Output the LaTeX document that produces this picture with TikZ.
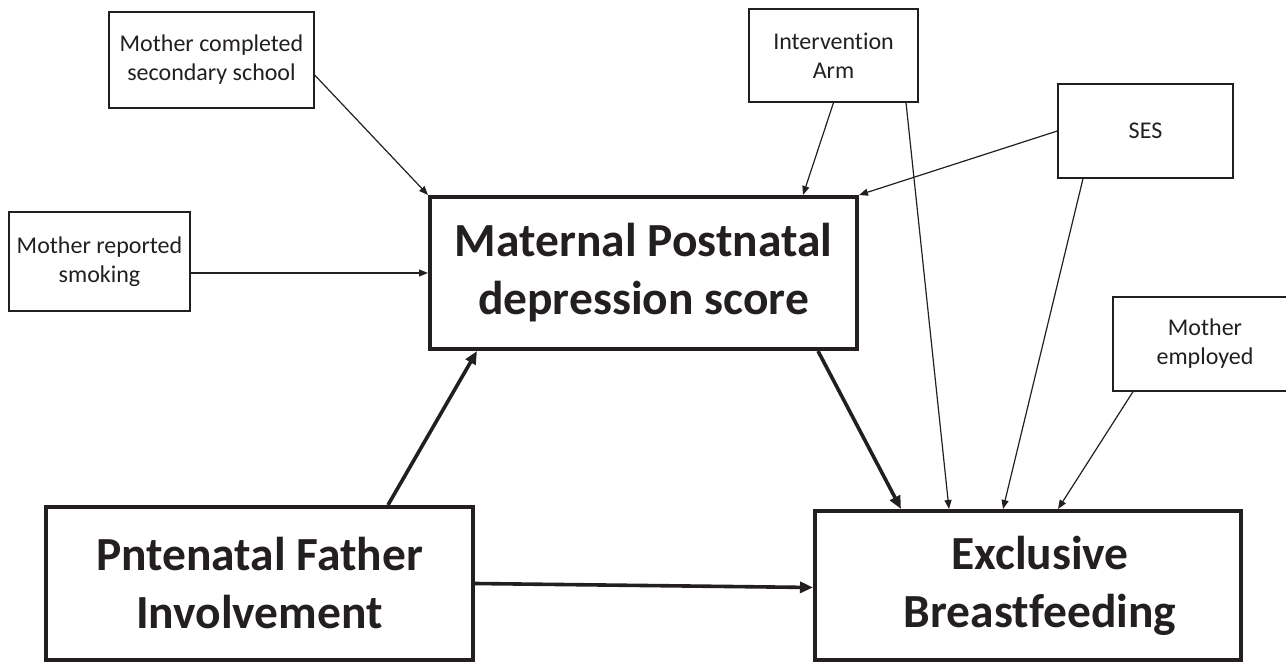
\documentclass[tikz,border=0pt]{standalone}
\usepackage{fontspec}
\setmainfont[Ligatures=NoCommon]{Carlito}
\usetikzlibrary{arrows.meta}
\definecolor{ink}{RGB}{35,31,32}

\begin{document}
\begin{tikzpicture}[x=1pt,y=-1pt,
  cov/.style={draw=ink,line width=1.3pt,inner sep=0pt,align=center,text=ink,
    font=\fontsize{24}{29}\selectfont},
  mainbox/.style={draw=ink,line width=4pt,inner sep=0pt,align=center,text=ink,
    font=\fontsize{47.5}{58}\selectfont\bfseries},
  thinarr/.style={draw=ink,line width=1.2pt,-{Triangle[length=9pt,width=7pt]}},
  thickarr/.style={draw=ink,line width=3.6pt,-{Triangle[length=13pt,width=11pt]}}]
  \useasboundingbox (0,0) rectangle (1286,663);
  % covariates
  \node[cov,minimum width=205,minimum height=96] (school) at (211.5,60) {Mother completed\\secondary school};
  \node[cov,minimum width=181,minimum height=99] (smoke) at (99.5,261.5) {Mother reported\\smoking};
  \node[cov,minimum width=169,minimum height=93] (arm) at (833.5,55.5) {Intervention\\Arm};
  \node[cov,minimum width=175,minimum height=94] (ses) at (1145.5,131) {SES};
  \node[cov,minimum width=184,minimum height=94] (emp) at (1205,344) {Mother\\employed};
  % main variables
  \node[mainbox,minimum width=427,minimum height=152] (mat) at (643.5,273) {Maternal Postnatal\\depression score};
  \node[mainbox,minimum width=427,minimum height=153] (father) at (259.5,583.5) {Pntenatal Father\\Involvement};
  \node[mainbox,minimum width=426,minimum height=149] (breast) at (1028,585.5) {\hspace*{24pt}Exclusive\\\hspace*{24pt}Breastfeeding};
  % paths
  \draw[thinarr] ([yshift=-15pt]school.east) -- (mat.north west);
  \draw[thinarr] (smoke.east |- mat.west) -- (mat.west);
  \draw[thinarr] (arm.south) -- ([xshift=159.5pt]mat.north);
  \draw[thinarr] ([xshift=72.5pt]arm.south) -- ([xshift=-79pt]breast.north);
  \draw[thinarr] (ses.west) -- (mat.north east);
  \draw[thinarr] ([xshift=-62.5pt]ses.south) -- ([xshift=-25pt]breast.north);
  \draw[thinarr] ([xshift=-72pt]emp.south) -- ([xshift=30pt]breast.north);
  \draw[thickarr] ([xshift=128.5pt]father.north) -- ([xshift=-166.5pt]mat.south);
  \draw[thickarr] ([xshift=174.5pt]mat.south) -- ([xshift=-127pt]breast.north);
  \draw[thickarr] (father.east) -- ([yshift=-2pt]breast.west);
\end{tikzpicture}
\end{document}
